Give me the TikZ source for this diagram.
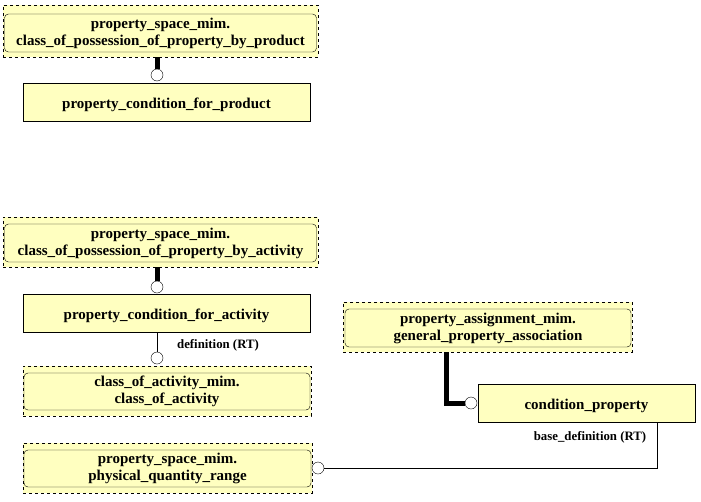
\documentclass[tikz,border=0pt]{standalone}
\usepackage{fontspec}
\setmainfont{Liberation Serif}
\definecolor{boxfill}{RGB}{255,255,192}
\tikzset{
  ent/.style={draw, fill=boxfill, font=\bfseries\fontsize{15}{17}\selectfont, align=center, inner sep=0pt, execute at begin node={\rule{0pt}{15.5pt}}},
  grp/.style={draw, dashed, fill=boxfill, inner sep=0pt},
  inr/.style={ent, rounded corners=4pt},
  ring/.style={draw, circle, fill=white, minimum size=12pt, inner sep=0pt},
  thickcon/.style={line width=5pt},
  thincon/.style={line width=1pt},
  lbl/.style={font=\bfseries\fontsize{12.8}{14}\selectfont, inner sep=0pt}
}
\begin{document}
\begin{tikzpicture}[x=1pt,y=-1pt]
\useasboundingbox (0,0) rectangle (701,501);
% group 1
\node[grp, minimum width=315pt, minimum height=52pt] (g1) at (160.5,31) {};
\node[inr, minimum width=312pt, minimum height=38pt] (g1i) at (160.5,33) {property\_space\_mim.\\class\_of\_possession\_of\_property\_by\_product};
\node[ent, minimum width=287pt, minimum height=38pt] (pcfp) at (166.5,102) {property\_condition\_for\_product};
\node[ring] (c1) at (157,75) {};
% group 2
\node[grp, minimum width=315pt, minimum height=50pt] (g2) at (160.5,242) {};
\node[inr, minimum width=312pt, minimum height=38pt] (g2i) at (160.5,243) {property\_space\_mim.\\class\_of\_possession\_of\_property\_by\_activity};
\node[ent, minimum width=287pt, minimum height=38pt] (pcfa) at (166.5,313.5) {property\_condition\_for\_activity};
\node[ring] (c2) at (157,287) {};
% class of activity
\node[grp, minimum width=288pt, minimum height=50pt] (g3) at (167,391) {};
\node[inr, minimum width=286pt, minimum height=37pt] (g3i) at (167,391.5) {class\_of\_activity\_mim.\\class\_of\_activity};
\node[ring] (c3) at (157,358) {};
% physical quantity range
\node[grp, minimum width=289pt, minimum height=50pt] (g4) at (167.5,468) {};
\node[inr, minimum width=287pt, minimum height=37pt] (g4i) at (167.5,468.5) {property\_space\_mim.\\physical\_quantity\_range};
\node[ring] (c4) at (318,468) {};
% general property association
\node[grp, minimum width=289pt, minimum height=50pt] (g5) at (487.5,327) {};
\node[inr, minimum width=286pt, minimum height=38pt] (g5i) at (488,328) {property\_assignment\_mim.\\general\_property\_association};
\node[ent, minimum width=217pt, minimum height=38pt] (cp) at (586.5,403) {condition\_property};
\node[ring] (c5) at (471,403) {};
\coordinate (bend) at (446,0);
\coordinate (corner) at (657,0);
% connectors
\draw[thickcon] (g1.south -| c1) -- (c1.north);
\draw[thickcon] (g2.south -| c2) -- (c2.north);
\draw[thincon] (pcfa.south -| c3) -- (c3.north);
\draw[thickcon] (g5.south -| bend) |- (c5.west);
\draw[thincon] (cp.south -| corner) |- (c4.east);
% labels
\node[lbl] (l1) at (218,345) {definition (RT)};
\node[lbl] (l2) at (590,437) {base\_definition (RT)};
\end{tikzpicture}
\end{document}
